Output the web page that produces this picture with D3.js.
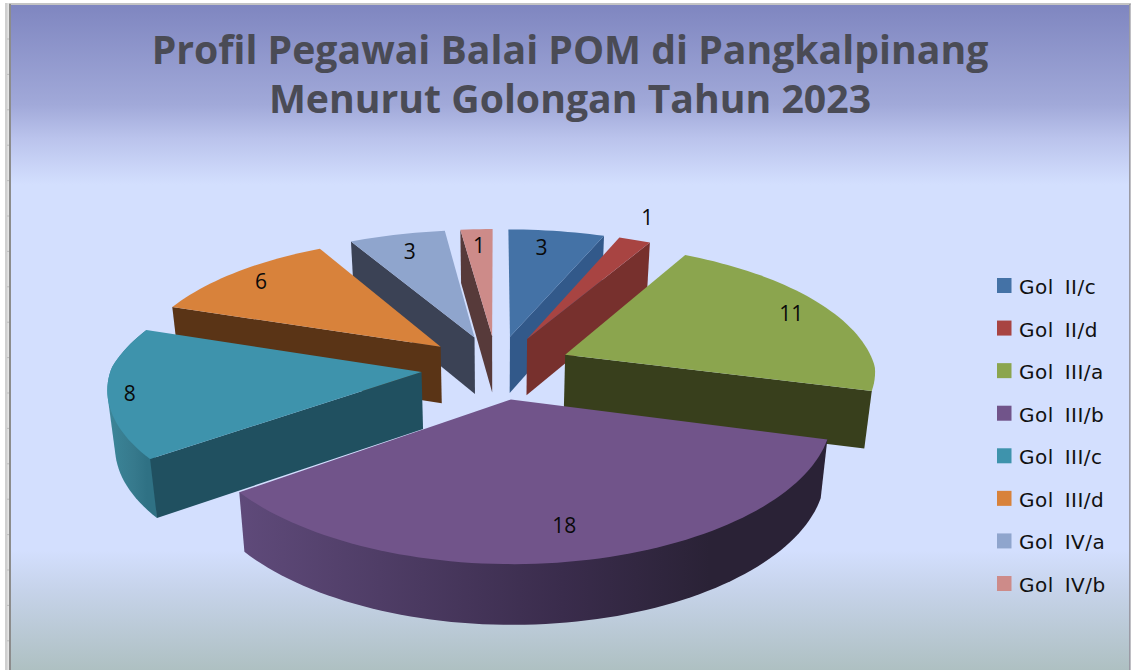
<!DOCTYPE html>
<html><head><meta charset="utf-8">
<script src="https://cdnjs.cloudflare.com/ajax/libs/d3/7.8.5/d3.min.js"></script>
<style>html,body{margin:0;padding:0;background:#fff;overflow:hidden}svg{display:block}</style>
</head><body><svg id="c" width="1131" height="670"></svg>
<script>
const categories = ["Gol II/c","Gol II/d","Gol III/a","Gol III/b","Gol III/c","Gol III/d","Gol IV/a","Gol IV/b"];
const values = [3,1,11,18,8,6,3,1];
const titleLines = ["Profil Pegawai Balai POM di Pangkalpinang","Menurut Golongan Tahun 2023"];

const topColors  = ["#4472a6","#a84442","#8ba54e","#71548a","#3e93ac","#d8823b","#8fa5cd","#cd8b89"];
const sideColors = ["#32598a","#77302d","#383f1c","#2b2238","#205060","#5a3416","#3b4255","#573a3a"];
const wallColors = ["#32598a","#77302d","#383f1c","#5f4a7a","#3c8699","#5a3416","#3b4255","#573a3a"];
const wallMids   = ["#32598a","#77302d","#383f1c","#3a2c4c","#36798c","#5a3416","#3b4255","#573a3a"];
const wallEnds   = ["#32598a","#77302d","#383f1c","#2a2236","#2f7184","#5a3416","#3b4255","#573a3a"];
const paintOrder = [7,6,5,4,0,1,2,3];
const labelRadii = [.82,1.24,.86,.81,.93,.87,.82,.83];
const labelShift = [-2,-2,0,0,-1,0,0,0];

const svg = d3.select("#c");
const W = 1131, H = 670;
const defs = svg.append("defs");
const bg = defs.append("linearGradient").attr("id","bg").attr("x1",0).attr("x2",0).attr("y1",0).attr("y2",1);
[[0,"#7f86c0"],[.15,"#a1a9d9"],[.2,"#bac3ec"],[.27,"#d3dffe"],[.82,"#d3dffe"],[.88,"#c6d3ea"],[1,"#aec0c2"]]
  .forEach(s=>bg.append("stop").attr("offset",s[0]).attr("stop-color",s[1]));

svg.append("rect").attr("x",5).attr("y",3).attr("width",W-5).attr("height",H-3).attr("fill","#e4e4e4");
svg.append("rect").attr("x",5).attr("y",3).attr("width",2.5).attr("height",H-3).attr("fill","#cfcfcf");
svg.append("rect").attr("x",9).attr("y",3).attr("width",W-9).attr("height",2).attr("fill","#c4c4c4");
svg.append("g").selectAll("rect").data(d3.range(39,H,35.4)).join("rect")
  .attr("x",7).attr("y",d=>d-.5).attr("width",3).attr("height",1).attr("fill","#bdbdbd");
svg.append("rect").attr("x",11).attr("y",5).attr("width",W-12).attr("height",H-5).attr("fill","url(#bg)");
svg.append("rect").attr("x",9).attr("y",4).attr("width",2).attr("height",H-4).attr("fill","#8c8c8c");
svg.append("rect").attr("x",W-2).attr("y",4).attr("width",1.5).attr("height",H-4).attr("fill","#9a9aa4");

// projection of the exploded pie
const cx = 496.6, cy = 367, bx = 310, ay = 130.7, py = .1436, explode = .244, conv = .02;
const depth = Y => 57 - 3*Y;
const spread = Y => Y >= 0 ? 1 + .17*Y - .02*Y*Y : 1 + .11*Y;
function proj(X,Y,low){
  const sx = cx + bx*X/spread(Y), sy = cy - ay*Y/(1+py*Y);
  return low ? [cx+(sx-cx)*(1-conv), sy+depth(Y)] : [sx,sy];
}
const pie = d3.pie().sort(null).startAngle(0).endAngle(2*Math.PI).value(d=>d);
const arcs = pie(values);
const line = d3.line().curve(d3.curveLinearClosed);

const slices = arcs.map((a,i)=>{
  const m = (a.startAngle+a.endAngle)/2;
  const ex = explode*Math.sin(m), ey = explode*Math.cos(m);
  const n = Math.max(3,Math.ceil((a.endAngle-a.startAngle)/.03));
  const ang = d3.range(n+1).map(k=>a.startAngle+(a.endAngle-a.startAngle)*k/n);
  const P = (t,r)=>[ex+r*Math.sin(t), ey+r*Math.cos(t)];
  return {i,m,ang,P,ex,ey,a};
});

slices.forEach(s=>{
  const g = defs.append("linearGradient").attr("id","w"+s.i);
  g.append("stop").attr("offset",0).attr("stop-color",wallColors[s.i]);
  g.append("stop").attr("offset",.55).attr("stop-color",wallMids[s.i]);
  g.append("stop").attr("offset",.8).attr("stop-color",wallEnds[s.i]);
  g.append("stop").attr("offset",1).attr("stop-color",wallEnds[s.i]);
});

const plot = svg.append("g");
paintOrder.forEach(i=>{
  const s = slices[i], g = plot.append("g");
  const apex = s.P(0,0);
  const outerT = s.ang.map(t=>proj(...s.P(t,1),false));
  const outerB = s.ang.map(t=>proj(...s.P(t,1),true));
  // outer curved wall, for slices that turn towards the viewer
  if(Math.cos(s.m)<0){
    g.append("path").attr("d",line(d3.polygonHull(outerT.concat(outerB)))).attr("fill",`url(#w${i})`);
  }
  // cut walls that face the viewer
  const t0 = s.a.startAngle, t1 = s.a.endAngle;
  [[t0,Math.sin(t0)<0],[t1,Math.sin(t1)>0]].filter(d=>d[1]).forEach(([t])=>{
    const e = s.P(t,1);
    g.append("path").attr("d",line([proj(...apex,false),proj(...e,false),proj(...e,true),proj(...apex,true)]))
      .attr("fill",sideColors[i]);
  });
  // top surface
  g.append("path").attr("d",line([proj(...apex,false)].concat(outerT))).attr("fill",topColors[i]);
});

// value labels
svg.append("g").selectAll("text").data(slices).join("text")
  .attr("transform",s=>{
    const t = s.m + labelShift[s.i]*Math.PI/180, r = labelRadii[s.i];
    const p = proj(s.ex+r*Math.sin(t), s.ey+r*Math.cos(t), false);
    return `translate(${p[0]},${p[1]})`;
  })
  .attr("text-anchor","middle").attr("dy","0.35em")
  .attr("font-family","'Open Sans'").attr("font-size",21).attr("fill","#0a0a0a")
  .text(s=>values[s.i]);

// legend
const ly = d3.scalePoint().domain(categories).range([286,584]);
const lg = svg.append("g").selectAll("g").data(categories).join("g")
  .attr("transform",d=>`translate(997,${ly(d)})`);
lg.append("rect").attr("y",-8).attr("width",14.5).attr("height",15)
  .attr("fill",(d,i)=>topColors[i]);
lg.append("text").attr("x",22).attr("y",8)
  .attr("font-family","'DejaVu Sans'").attr("font-size",20).attr("word-spacing",4).attr("letter-spacing",.5).attr("fill","#111")
  .text(d=>d);

// title
svg.append("g").selectAll("text").data(titleLines).join("text")
  .attr("x",570).attr("y",(d,i)=>64+i*48.5)
  .attr("text-anchor","middle").attr("font-family","'Open Sans'").attr("font-weight",700)
  .attr("font-size",39.2).attr("fill","#4a4b55").text(d=>d);
</script></body></html>
